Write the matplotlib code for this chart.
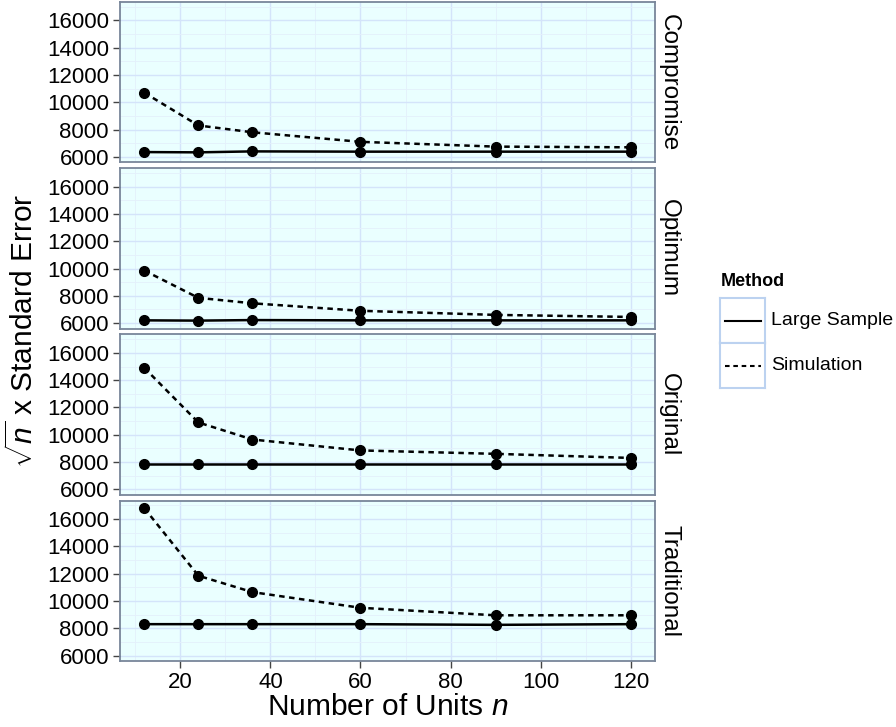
import numpy as np
import matplotlib
matplotlib.use("Agg")
import matplotlib.pyplot as plt
from matplotlib.lines import Line2D

plt.rcParams['font.family'] = ['Liberation Sans', 'DejaVu Sans']
plt.rcParams['mathtext.fontset'] = 'custom'
plt.rcParams['mathtext.rm'] = 'Liberation Sans'
plt.rcParams['mathtext.it'] = 'Liberation Sans:italic'

# number of units in the test
n_units = [12, 24, 36, 60, 90, 120]

plans = ["Compromise", "Optimum", "Original", "Traditional"]

# sqrt(n) x standard error, large-sample approximation
large_sample = {
    "Compromise":  [6350, 6330, 6400, 6380, 6380, 6380],
    "Optimum":     [6200, 6180, 6220, 6200, 6200, 6200],
    "Original":    [7850, 7850, 7850, 7850, 7850, 7850],
    "Traditional": [8300, 8300, 8300, 8300, 8250, 8300],
}
# sqrt(n) x standard error, from simulation
simulation = {
    "Compromise":  [10700, 8300, 7800, 7100, 6750, 6700],
    "Optimum":     [9850, 7850, 7450, 6900, 6600, 6450],
    "Original":    [14900, 10900, 9650, 8850, 8600, 8300],
    "Traditional": [16800, 11850, 10650, 9500, 8950, 8950],
}

methods = ["Large Sample", "Simulation"]
styles = {"Large Sample": dict(linestyle="-"),
          "Simulation": dict(linestyle=(0, (2.2, 1.8)))}

panel_bg = "#eaffff"
major_grid = "#d4e4fa"
minor_grid = "#e4f0fb"
border = "#78869a"

W, H = 896, 727
fig = plt.figure(figsize=(W / 100, H / 100), dpi=100)
axes = fig.subplots(4, 1, sharex=True)
fig.subplots_adjust(left=120 / W, right=655 / W, top=1 - 2 / H,
                    bottom=1 - 661 / H, hspace=0.037)

for ax, plan in zip(axes, plans):
    ax.set_facecolor(panel_bg)
    series = {"Large Sample": large_sample[plan], "Simulation": simulation[plan]}
    for m in methods:
        ax.plot(n_units, series[m], color="black", lw=1.8, marker="o",
                ms=7, **styles[m], zorder=3)
    ax.set_xlim(6.6, 125.4)
    ax.set_ylim(5600, 17350)
    ax.set_yticks(np.arange(6000, 16001, 2000))
    ax.set_yticks(np.arange(7000, 17001, 2000), minor=True)
    ax.set_xticks(np.arange(20, 121, 20))
    ax.set_xticks(np.arange(10, 121, 20), minor=True)
    ax.grid(which="major", color=major_grid, lw=1.0)
    ax.grid(which="minor", color=minor_grid, lw=0.6)
    ax.set_axisbelow(True)
    for s in ax.spines.values():
        s.set_color(border)
        s.set_linewidth(1.3)
    ax.tick_params(which="major", length=5, width=1, color="#444444",
                   labelsize=16, pad=3)
    ax.tick_params(which="minor", length=0)
    # strip label to the right of each panel
    ax.text(1.0 + 3 / 535, 0.5, plan, transform=ax.transAxes, rotation=-90,
            ha="left", va="center", fontsize=17.5)

for ax in axes[:-1]:
    ax.tick_params(axis="x", which="major", length=0)

axes[-1].set_xlabel(r"Number of Units $n$", fontsize=21.5, labelpad=0)
fig.text(22 / W, 1 - 331 / H, r"$\sqrt{n}$ x Standard Error", rotation=90,
         ha="center", va="center", fontsize=21.5)

# legend: title, keys in light-blue boxes, labels
fig.text(721 / W, 1 - 281 / H, "Method", fontsize=13, fontweight="bold",
         ha="left", va="center")
key_top = 298
for i, m in enumerate(methods):
    y0 = key_top + i * 45
    kax = fig.add_axes([720 / W, 1 - (y0 + 45) / H, 45 / W, 45 / H])
    kax.set_xlim(0, 1)
    kax.set_ylim(0, 1)
    kax.set_xticks([])
    kax.set_yticks([])
    kax.set_facecolor("white")
    for s in kax.spines.values():
        s.set_color("#bcd2f0")
        s.set_linewidth(1.5)
    kax.add_line(Line2D([0.1, 0.9], [0.5, 0.5], color="black", lw=1.5,
                        **styles[m]))
    fig.text(771 / W, 1 - (y0 + 22.5) / H, m, fontsize=14,
             ha="left", va="center")

fig.savefig("out.png", dpi=100)
